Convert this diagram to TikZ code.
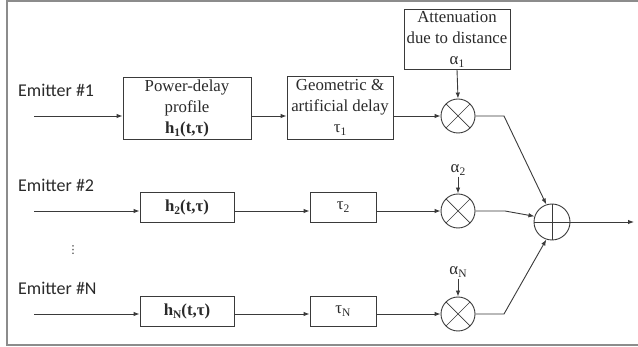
\documentclass[tikz,border=0pt]{standalone}
\usepackage{fontspec}
\setmainfont{Liberation Serif}
\newfontfamily\emitfont{Carlito}
\newfontfamily\symfont{DejaVu Sans}
\usetikzlibrary{arrows.meta, positioning, calc}
\definecolor{linegray}{HTML}{3A3A3A}
\definecolor{textgray}{HTML}{2A2A2A}
\definecolor{framegray}{HTML}{8C8C8C}
\newcommand{\lowi}[1]{\raisebox{-0.4ex}{\fontsize{11.5}{11.5}\selectfont #1}}
\tikzset{
    blk/.style={draw=linegray, line width=0.9pt, rectangle, inner sep=0pt, align=center,
        text=textgray, font=\fontsize{16.8}{21}\selectfont},
    mult/.style={draw=linegray, line width=0.9pt, circle, inner sep=0pt, minimum size=34pt,
        path picture={
            \draw[linegray, line width=0.7pt]
                (path picture bounding box.north west) -- (path picture bounding box.south east)
                (path picture bounding box.south west) -- (path picture bounding box.north east);
        }},
    summ/.style={draw=linegray, line width=0.9pt, circle, inner sep=0pt, minimum size=36pt,
        path picture={
            \draw[linegray, line width=0.7pt]
                (path picture bounding box.north) -- (path picture bounding box.south)
                (path picture bounding box.west) -- (path picture bounding box.east);
        }},
    sig/.style={draw=linegray, line width=0.9pt, -{Latex[length=6pt,width=4.5pt]}},
    emit/.style={anchor=west, inner sep=0pt, text=textgray, font=\emitfont\fontsize{18}{20}\selectfont},
    gain/.style={inner sep=0pt, text=textgray, font=\fontsize{16.8}{18}\selectfont}
}

\begin{document}
\begin{tikzpicture}[x=1pt, y=-1pt]
    \useasboundingbox (0,0) rectangle (638,347);
    % frame
    \draw[framegray, line width=2pt] (645,1) -- (7,1) -- (7,345) -- (645,345);

    % emitters
    \node[emit] (e1) at (18,90) {Emitter \#1};
    \node[emit] (e2) at (18,185) {Emitter \#2};
    \node[emit] (eN) at (18,288) {Emitter \#N};
    \node[inner sep=0pt, text=textgray, font=\symfont\fontsize{11}{11}\selectfont] (dots) at (73,250) {⋮};

    \coordinate (in1) at (34,116);
    \coordinate (in2) at (34,211);
    \coordinate (inN) at (34,314);

    % row 1
    \node[blk, minimum width=128pt, minimum height=62pt] (p1) at (187,108)
        {Power-delay\\profile\\\textbf{h\lowi{1}(t,τ)}};
    \node[blk, minimum width=106pt, minimum height=63pt] (g1) at (340,107.5)
        {Geometric \&\\artificial delay\\τ\lowi{1}};
    \node[blk, minimum width=106pt, minimum height=60pt] (a1) at (457,39)
        {Attenuation\\due to distance\\α\lowi{1}};
    \node[mult] (m1) at (458,116) {};

    % row 2
    \node[blk, minimum width=94pt, minimum height=30pt] (p2) at (187,207) {\textbf{h\lowi{2}(t,τ)}};
    \node[blk, minimum width=66pt, minimum height=30pt] (g2) at (343,207) {τ\lowi{2}};
    \node[gain] (a2) at (458,170) {α\lowi{2}};
    \node[mult] (m2) at (458,211) {};

    % row N
    \node[blk, minimum width=94pt, minimum height=30pt] (pN) at (187,311) {\textbf{h\lowi{N}(t,τ)}};
    \node[blk, minimum width=66pt, minimum height=30pt] (gN) at (343,311) {τ\lowi{N}};
    \node[gain] (aN) at (458,272) {α\lowi{N}};
    \node[mult] (mN) at (458,314) {};

    % adder
    \node[summ] (s) at (552,222) {};
    \coordinate (out) at (634,222);
    \coordinate (k1) at (504,116);
    \coordinate (k2) at (505,211);
    \coordinate (kN) at (504,314);

    \draw[sig] (in1) -- (in1 -| p1.west);
    \draw[sig] (in1 -| p1.east) -- (in1 -| g1.west);
    \draw[sig] (in1 -| g1.east) -- (m1.west);
    \draw[sig] (a1.south) -- (m1.north);
    \draw[sig] (m1.east) -- (k1) -- (s.108);

    \draw[sig] (in2) -- (in2 -| p2.west);
    \draw[sig] (in2 -| p2.east) -- (in2 -| g2.west);
    \draw[sig] (in2 -| g2.east) -- (m2.west);
    \draw[sig] ([yshift=-1pt]a2.south) -- (m2.north);
    \draw[sig] (m2.east) -- (k2) -- (s.162);

    \draw[sig] (inN) -- (inN -| pN.west);
    \draw[sig] (inN -| pN.east) -- (inN -| gN.west);
    \draw[sig] (inN -| gN.east) -- (mN.west);
    \draw[sig] ([yshift=-1pt]aN.south) -- (mN.north);
    \draw[sig] (mN.east) -- (kN) -- (s.252);

    \draw[sig] (s.east) -- (out);
\end{tikzpicture}
\end{document}
